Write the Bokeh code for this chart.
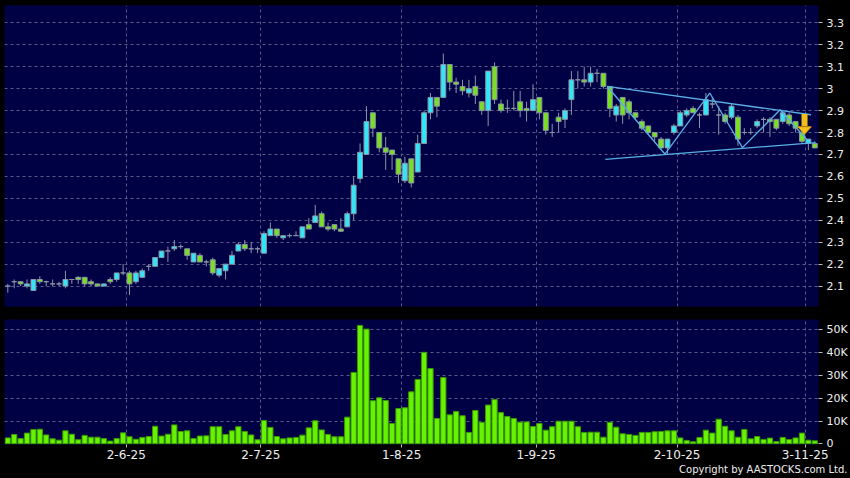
from bokeh.plotting import figure
from bokeh.layouts import column
from bokeh.models import Range1d, FixedTicker, ColumnDataSource, Title, GlobalInlineStyleSheet
from bokeh.embed import file_html
from bokeh.resources import INLINE

# ---------------- data ----------------
opens = [2.10, 2.12, 2.12, 2.10, 2.08, 2.13, 2.12, 2.11, 2.11, 2.10,
         2.13, 2.14, 2.14, 2.12, 2.11, 2.10, 2.13, 2.13, 2.16, 2.16,
         2.12, 2.14, 2.19, 2.19, 2.23, 2.26, 2.27, 2.28, 2.27, 2.21,
         2.24, 2.21, 2.22, 2.15, 2.17, 2.20, 2.26, 2.29, 2.27, 2.27,
         2.25, 2.33, 2.36, 2.32, 2.33, 2.33, 2.32, 2.38, 2.39, 2.43,
         2.37, 2.38, 2.36, 2.37, 2.43, 2.59, 2.70, 2.89, 2.80, 2.73,
         2.72, 2.68, 2.58, 2.68, 2.62, 2.75, 2.89, 2.96, 2.96, 3.11,
         3.03, 3.01, 2.98, 3.01, 2.94, 2.90, 3.10, 2.93, 2.91, 2.91,
         2.94, 2.91, 2.90, 2.96, 2.89, 2.80, 2.87, 2.86, 2.95, 3.04,
         3.04, 3.03, 3.07, 3.07, 3.01, 2.88, 2.96, 2.94, 2.89, 2.85,
         2.83, 2.80, 2.77, 2.73, 2.80, 2.83, 2.88, 2.91, 2.88, 2.88,
         2.93, 2.88, 2.88, 2.87, 2.87, 2.80, 2.80, 2.83, 2.86, 2.86,
         2.86, 2.85, 2.88, 2.85, 2.80, 2.75, 2.75]
highs = [2.11, 2.13, 2.12, 2.13, 2.13, 2.145, 2.125, 2.13, 2.12, 2.17,
         2.13, 2.145, 2.14, 2.13, 2.11, 2.11, 2.14, 2.16, 2.20, 2.17,
         2.17, 2.18, 2.20, 2.23, 2.26, 2.28, 2.31, 2.29, 2.27, 2.25,
         2.25, 2.22, 2.23, 2.18, 2.20, 2.26, 2.30, 2.31, 2.30, 2.28,
         2.35, 2.39, 2.36, 2.33, 2.34, 2.35, 2.37, 2.41, 2.47, 2.44,
         2.39, 2.38, 2.41, 2.44, 2.60, 2.75, 2.92, 2.89, 2.80, 2.78,
         2.72, 2.68, 2.69, 2.68, 2.79, 2.90, 2.98, 2.96, 3.16, 3.11,
         3.05, 3.04, 3.04, 3.06, 2.94, 3.08, 3.12, 2.95, 2.95, 2.99,
         2.99, 2.94, 3.02, 2.96, 2.89, 2.84, 2.89, 2.91, 3.08, 3.08,
         3.10, 3.10, 3.09, 3.07, 3.01, 2.93, 2.96, 2.95, 2.89, 2.86,
         2.83, 2.80, 2.78, 2.77, 2.84, 2.90, 2.91, 2.92, 2.89, 2.98,
         2.96, 2.92, 2.89, 2.93, 2.88, 2.82, 2.82, 2.86, 2.87, 2.87,
         2.86, 2.90, 2.89, 2.85, 2.81, 2.77, 2.76]
lows = [2.07, 2.09, 2.10, 2.09, 2.08, 2.11, 2.10, 2.10, 2.10, 2.09,
        2.11, 2.11, 2.10, 2.10, 2.10, 2.10, 2.11, 2.12, 2.15, 2.06,
        2.11, 2.14, 2.17, 2.19, 2.23, 2.21, 2.26, 2.27, 2.22, 2.21,
        2.21, 2.19, 2.15, 2.14, 2.13, 2.20, 2.26, 2.26, 2.25, 2.25,
        2.25, 2.33, 2.32, 2.31, 2.32, 2.33, 2.32, 2.36, 2.39, 2.37,
        2.35, 2.35, 2.35, 2.37, 2.40, 2.57, 2.70, 2.78, 2.71, 2.63,
        2.63, 2.57, 2.57, 2.55, 2.62, 2.75, 2.86, 2.87, 2.96, 2.99,
        2.98, 2.97, 2.96, 2.93, 2.88, 2.83, 2.93, 2.89, 2.89, 2.90,
        2.87, 2.85, 2.90, 2.86, 2.79, 2.78, 2.80, 2.82, 2.88, 3.00,
        3.01, 3.01, 3.03, 3.00, 2.87, 2.85, 2.84, 2.86, 2.86, 2.81,
        2.79, 2.76, 2.72, 2.70, 2.79, 2.83, 2.87, 2.89, 2.82, 2.88,
        2.91, 2.79, 2.84, 2.86, 2.74, 2.79, 2.79, 2.82, 2.80, 2.78,
        2.81, 2.84, 2.83, 2.80, 2.75, 2.72, 2.73]
closes = [2.10, 2.12, 2.11, 2.11, 2.13, 2.12, 2.12, 2.11, 2.11, 2.13,
          2.13, 2.13, 2.11, 2.11, 2.10, 2.11, 2.12, 2.16, 2.16, 2.11,
          2.16, 2.17, 2.19, 2.23, 2.26, 2.26, 2.28, 2.28, 2.24, 2.25,
          2.21, 2.21, 2.16, 2.18, 2.20, 2.24, 2.29, 2.27, 2.27, 2.27,
          2.34, 2.36, 2.33, 2.33, 2.33, 2.33, 2.37, 2.36, 2.42, 2.37,
          2.36, 2.36, 2.35, 2.43, 2.56, 2.71, 2.85, 2.82, 2.73, 2.71,
          2.70, 2.61, 2.66, 2.57, 2.75, 2.89, 2.96, 2.92, 3.11, 3.03,
          3.02, 2.99, 3.00, 2.97, 2.90, 3.08, 2.95, 2.90, 2.91, 2.91,
          2.90, 2.90, 2.95, 2.89, 2.81, 2.80, 2.85, 2.90, 3.04, 3.04,
          3.03, 3.07, 3.07, 3.01, 2.91, 2.92, 2.88, 2.89, 2.87, 2.82,
          2.80, 2.78, 2.73, 2.77, 2.83, 2.89, 2.90, 2.89, 2.88, 2.95,
          2.93, 2.88, 2.85, 2.92, 2.77, 2.80, 2.80, 2.85, 2.86, 2.85,
          2.82, 2.89, 2.84, 2.82, 2.76, 2.77, 2.73]
volumes = [2600, 4100, 2300, 4700, 6300, 6400, 3900, 2200, 1600, 5700,
           4200, 1800, 3700, 2900, 2900, 2300, 1200, 2300, 4800, 3100,
           2000, 2800, 3200, 7700, 3400, 4200, 8300, 5400, 5700, 2300,
           3400, 3500, 7500, 7500, 4100, 5700, 7500, 5400, 3900, 1800,
           10200, 7200, 3200, 2200, 2600, 2800, 3800, 7000, 10100, 6100,
           4100, 3100, 3100, 11700, 31300, 51900, 50300, 18900, 20200, 19000,
           8900, 15500, 15800, 22800, 28200, 40100, 33000, 11100, 29100, 12700,
           14200, 12300, 5000, 14600, 9400, 17000, 19400, 13700, 12000, 11100,
           9500, 9600, 7600, 8900, 6000, 7500, 9900, 9900, 9900, 7500,
           5000, 5100, 5100, 2900, 9400, 7300, 4400, 4100, 3700, 5000,
           5000, 5300, 5400, 5700, 5700, 2600, 1500, 900, 2800, 6000,
           4700, 10800, 7700, 5700, 2900, 6300, 2200, 3200, 1900, 2500,
           1000, 2800, 1900, 2600, 4700, 1600, 1300]

month_ticks = [19, 40, 62, 83, 105, 125]
month_labels = ["2-6-25", "2-7-25", "1-8-25", "1-9-25", "2-10-25", "3-11-25"]
price_ticks = [2.1, 2.2, 2.3, 2.4, 2.5, 2.6, 2.7, 2.8, 2.9, 3.0, 3.1, 3.2, 3.3]
price_labels = ["2.1", "2.2", "2.3", "2.4", "2.5", "2.6", "2.7", "2.8", "2.9", "3", "3.1", "3.2", "3.3"]
vol_ticks = [0, 10000, 20000, 30000, 40000, 50000]
vol_labels = ["0", "10K", "20K", "30K", "40K", "50K"]

# triangle pattern annotation (index, price)
upper_x = [94.1, 125.9]
upper_y = [3.01, 2.881]
lower_x = [93.8, 126.6]
lower_y = [2.678, 2.754]
zig_x = [94.1, 103.1, 110.1, 115.2, 121.1, 125.3]
zig_y = [3.01, 2.702, 2.98, 2.731, 2.904, 2.766]
arrow_x = 124.9
arrow_top = 2.885
arrow_head = 2.826
arrow_tip = 2.792

# ---------------- styles ----------------
BG = "#000044"
GRID = "#5A5A88"
UP = "#33E6F5"
DOWN = "#78E020"
FLAT = "#9AA4B4"
EDGE = "#8A94A6"
VOLF = "#66F200"
VOLE = "#3A9A00"
TREND = "#5AB0E6"
TXT = "#EEEEEE"
FONT = "DejaVu Sans"

n = len(opens)
xs = [i + 0.5 for i in range(n)]
colors = [UP if c > o else (DOWN if c < o else FLAT) for o, c in zip(opens, closes)]
src = ColumnDataSource(dict(
    x=xs, o=opens, h=highs, l=lows, c=closes, v=volumes,
    top=[max(o, c) for o, c in zip(opens, closes)],
    bot=[min(o, c) for o, c in zip(opens, closes)],
    col=colors,
))

xr = Range1d(-0.015, 127.08)


def style_common(p):
    p.background_fill_color = BG
    p.border_fill_color = "black"
    p.outline_line_color = None
    p.xgrid.ticker = FixedTicker(ticks=month_ticks)
    for g in (p.xgrid, p.ygrid):
        g.grid_line_color = GRID
        g.grid_line_dash = "3 3"
        g.grid_line_width = 1
    ax = p.yaxis[0]
    ax.axis_line_color = None
    ax.major_tick_line_color = "#BBBBBB"
    ax.major_tick_out = 4
    ax.major_tick_in = 0
    ax.minor_tick_line_color = None
    ax.major_label_text_color = TXT
    ax.major_label_text_font = FONT
    ax.major_label_text_font_size = "11px"
    ax.major_label_standoff = 4


p1 = figure(width=850, height=312, x_range=xr, y_range=Range1d(2.007, 3.379),
            y_axis_location="right", x_axis_location=None,
            output_backend="svg", toolbar_location=None,
            min_border_left=4, min_border_right=32, min_border_top=5, min_border_bottom=6)
style_common(p1)
p1.yaxis.ticker = FixedTicker(ticks=price_ticks)
p1.yaxis.major_label_overrides = {t: s for t, s in zip(price_ticks, price_labels)}
p1.ygrid.ticker = FixedTicker(ticks=price_ticks)

p1.segment(x0="x", y0="h", x1="x", y1="l", source=src, line_color=EDGE, line_width=1)
p1.vbar(x="x", top="top", bottom="bot", width=0.76, source=src,
        fill_color="col", line_color=EDGE, line_width=1)

p1.line(upper_x, upper_y, line_color=TREND, line_width=1.3)
p1.line(lower_x, lower_y, line_color=TREND, line_width=1.3)
p1.line(zig_x, zig_y, line_color=TREND, line_width=1.3)

p1.segment(x0=[arrow_x], y0=[arrow_top], x1=[arrow_x], y1=[arrow_head + 0.004],
           line_color="#F2BE1A", line_width=6)
p1.patch([arrow_x - 1.05, arrow_x + 1.05, arrow_x], [arrow_head, arrow_head, arrow_tip],
         fill_color="#F5C21C", line_color="#E09A10", line_width=1)

p2 = figure(width=850, height=166, x_range=xr, y_range=Range1d(-300, 54500),
            y_axis_location="right", x_axis_location="below",
            output_backend="svg", toolbar_location=None,
            min_border_left=4, min_border_right=32, min_border_top=7, min_border_bottom=34)
style_common(p2)
p2.yaxis.ticker = FixedTicker(ticks=vol_ticks)
p2.yaxis.major_label_overrides = {t: s for t, s in zip(vol_ticks, vol_labels)}
p2.ygrid.ticker = FixedTicker(ticks=vol_ticks[1:])

xa = p2.xaxis[0]
xa.ticker = FixedTicker(ticks=month_ticks)
xa.major_label_overrides = {t: s for t, s in zip(month_ticks, month_labels)}
xa.axis_line_color = None
xa.major_tick_line_color = "#BBBBBB"
xa.major_tick_out = 3
xa.major_tick_in = 0
xa.minor_tick_line_color = None
xa.major_label_text_color = TXT
xa.major_label_text_font = FONT
xa.major_label_text_font_size = "12px"
xa.major_label_standoff = 2

p2.vbar(x="x", top="v", bottom=0, width=0.82, source=src,
        fill_color=VOLF, line_color=VOLE, line_width=1)

p2.add_layout(Title(text="Copyright by AASTOCKS.com Ltd.", align="right",
                    text_color=TXT, text_font=FONT, text_font_size="10px",
                    text_font_style="normal", standoff=0, offset=-29), "below")

page = column(p1, p2, spacing=0)
page.stylesheets = [GlobalInlineStyleSheet(css="html, body { background: #000000; }")]

open("out.html", "w").write(file_html(page, INLINE))
